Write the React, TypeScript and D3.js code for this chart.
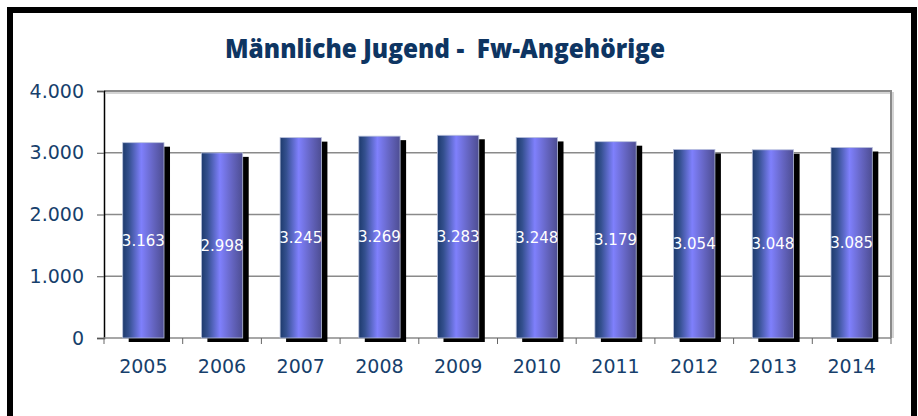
import React, { useEffect, useRef } from 'react';
import * as d3 from 'd3';

const years = ['2005', '2006', '2007', '2008', '2009', '2010', '2011', '2012', '2013', '2014'];
const members = [3163, 2998, 3245, 3269, 3283, 3248, 3179, 3054, 3048, 3085];
const yTicks = [0, 1000, 2000, 3000, 4000];

const WIDTH = 918;
const HEIGHT = 416;

const fmt = (v: number) => (v === 0 ? '0' : d3.format(',')(v).replace(/,/g, '.'));

const App: React.FC = () => {
  const svgRef = useRef<SVGSVGElement>(null);

  useEffect(() => {
    if (!svgRef.current) return;
    const svg = d3.select(svgRef.current);
    svg.selectAll('*').remove();

    const margin = { top: 91, right: 27, bottom: 78, left: 104 };
    const innerWidth = WIDTH - margin.left - margin.right;
    const innerHeight = HEIGHT - margin.top - margin.bottom;
    const navy = '#173f6c';

    // gradient for the cylinders-like bars
    const defs = svg.append('defs');
    const grad = defs.append('linearGradient').attr('id', 'barGrad')
      .attr('x1', '0%').attr('x2', '100%').attr('y1', '0%').attr('y2', '0%');
    grad.append('stop').attr('offset', '0%').attr('stop-color', '#1d3a6c');
    grad.append('stop').attr('offset', '15%').attr('stop-color', '#34508f');
    grad.append('stop').attr('offset', '45%').attr('stop-color', '#7f80fc');
    grad.append('stop').attr('offset', '75%').attr('stop-color', '#6464c0');
    grad.append('stop').attr('offset', '100%').attr('stop-color', '#4d4d92');

    // outer frame
    svg.append('rect')
      .attr('x', 10).attr('y', 10)
      .attr('width', 904).attr('height', 430)
      .attr('fill', '#fff')
      .attr('stroke', '#000')
      .attr('stroke-width', 6);

    svg.append('text')
      .attr('x', 445)
      .attr('y', 58)
      .attr('text-anchor', 'middle')
      .attr('font-family', '"Open Sans", sans-serif')
      .attr('font-weight', 800)
      .attr('font-size', '27px')
      .attr('fill', '#0e3562')
      .attr('textLength', 440)
      .attr('lengthAdjust', 'spacingAndGlyphs')
      .style('white-space', 'pre')
      .text('Männliche Jugend -  Fw-Angehörige');

    const g = svg.append('g').attr('transform', `translate(${margin.left},${margin.top})`);

    const x = d3.scaleBand().domain(years).range([0, innerWidth]).paddingInner(0.475).paddingOuter(0.2375);
    const y = d3.scaleLinear().domain([0, 4000]).range([innerHeight, 0]);

    // plot area shadow + border
    g.append('path')
      .attr('d', `M2,2 H${innerWidth + 2} V${innerHeight}`)
      .attr('fill', 'none').attr('stroke', '#d4d4d4').attr('stroke-width', 2);
    g.append('path')
      .attr('d', `M0,0 H${innerWidth} V${innerHeight}`)
      .attr('fill', 'none').attr('stroke', '#8a8a8a').attr('stroke-width', 2);

    // gridlines
    g.append('g')
      .selectAll('line')
      .data(yTicks.filter(t => t > 0 && t < 4000))
      .enter()
      .append('line')
      .attr('x1', 0).attr('x2', innerWidth)
      .attr('y1', d => y(d)).attr('y2', d => y(d))
      .attr('stroke', '#8a8a8a').attr('stroke-width', 1.5);

    // y axis
    const yAxis = g.append('g')
      .call(d3.axisLeft(y).tickValues(yTicks).tickSize(7).tickPadding(13).tickFormat(d => fmt(d as number)));
    yAxis.select('.domain').attr('stroke', '#000').attr('stroke-width', 1.5);
    yAxis.selectAll('.tick line').attr('stroke', '#555');
    yAxis.selectAll('.tick text')
      .attr('font-family', '"DejaVu Sans", Verdana, sans-serif')
      .attr('font-size', '19px')
      .attr('fill', navy);

    // x axis line + ticks at category boundaries
    g.append('line')
      .attr('x1', 0).attr('x2', innerWidth)
      .attr('y1', innerHeight).attr('y2', innerHeight)
      .attr('stroke', '#8a8a8a').attr('stroke-width', 1.5);
    const step = x.step();
    g.append('g').selectAll('line')
      .data(d3.range(years.length + 1))
      .enter()
      .append('line')
      .attr('x1', i => i * step).attr('x2', i => i * step)
      .attr('y1', innerHeight).attr('y2', innerHeight + 6)
      .attr('stroke', '#666');

    g.append('g').selectAll('text')
      .data(years)
      .enter()
      .append('text')
      .attr('x', d => (x(d) || 0) + x.bandwidth() / 2)
      .attr('y', innerHeight + 35)
      .attr('text-anchor', 'middle')
      .attr('font-family', '"DejaVu Sans", Verdana, sans-serif')
      .attr('font-size', '19px')
      .attr('fill', navy)
      .text(d => d);

    // bar shadows
    g.append('g').selectAll('rect')
      .data(members)
      .enter()
      .append('rect')
      .attr('x', (_, i) => (x(years[i]) || 0) + 6)
      .attr('y', d => y(d) + 4)
      .attr('width', x.bandwidth())
      .attr('height', d => innerHeight - y(d))
      .attr('fill', '#000');

    // bars
    g.append('g').selectAll('rect')
      .data(members)
      .enter()
      .append('rect')
      .attr('x', (_, i) => x(years[i]) || 0)
      .attr('y', d => y(d))
      .attr('width', x.bandwidth())
      .attr('height', d => innerHeight - y(d))
      .attr('fill', 'url(#barGrad)')
      .attr('stroke', '#b8c0dc')
      .attr('stroke-width', 0.8);

    // value labels in the middle of each bar
    g.append('g').selectAll('text')
      .data(members)
      .enter()
      .append('text')
      .attr('x', (_, i) => (x(years[i]) || 0) + x.bandwidth() / 2)
      .attr('y', d => (y(d) + innerHeight) / 2)
      .attr('dy', '0.36em')
      .attr('text-anchor', 'middle')
      .attr('font-family', '"DejaVu Sans", Verdana, sans-serif')
      .attr('font-size', '15px')
      .attr('fill', '#fff')
      .text(d => fmt(d));
  }, []);

  return (
    <svg
      ref={svgRef}
      width={WIDTH}
      height={HEIGHT}
      style={{ position: 'absolute', left: 0, top: 0, background: '#fff' }}
    />
  );
};

export default App;
